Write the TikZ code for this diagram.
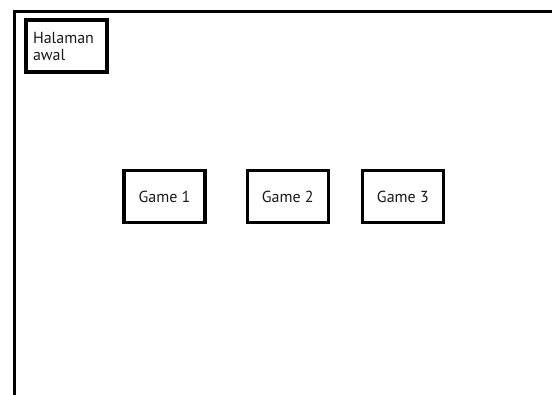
\documentclass[tikz,border=0pt]{standalone}
\usepackage{fontspec}
\setmainfont{PT Sans}
\usetikzlibrary{positioning}
\definecolor{Dark}{HTML}{000000}
\tikzset{
    screenbox/.style={rectangle, draw=Dark, line width=3.2pt, minimum width=81pt, minimum height=52pt, font=\fontsize{16}{17}\selectfont, text=Dark!90},
    menubox/.style={screenbox, align=left, text width=67pt, inner xsep=7pt},
}
\begin{document}
\begin{tikzpicture}[x=1pt, y=-1pt]
            \useasboundingbox (0,0) rectangle (552,394);
            % Layar
            \coordinate (sb) at (14,400);
            \coordinate (st) at (14,11);
            \coordinate (se) at (560,11);
            \draw[line width=3pt, Dark] (sb) -- (st) -- (se);
            
            % Halaman awal
            \node[menubox] (awal) at (66.5,46) {Halaman\\awal};
            
            % Pilihan game
            \node[screenbox] (game1) at (164.5,196.5) {Game 1};
            \node[screenbox, right=39pt of game1] (game2) {Game 2};
            \node[screenbox, right=31pt of game2] (game3) {Game 3};
        \end{tikzpicture}
\end{document}
